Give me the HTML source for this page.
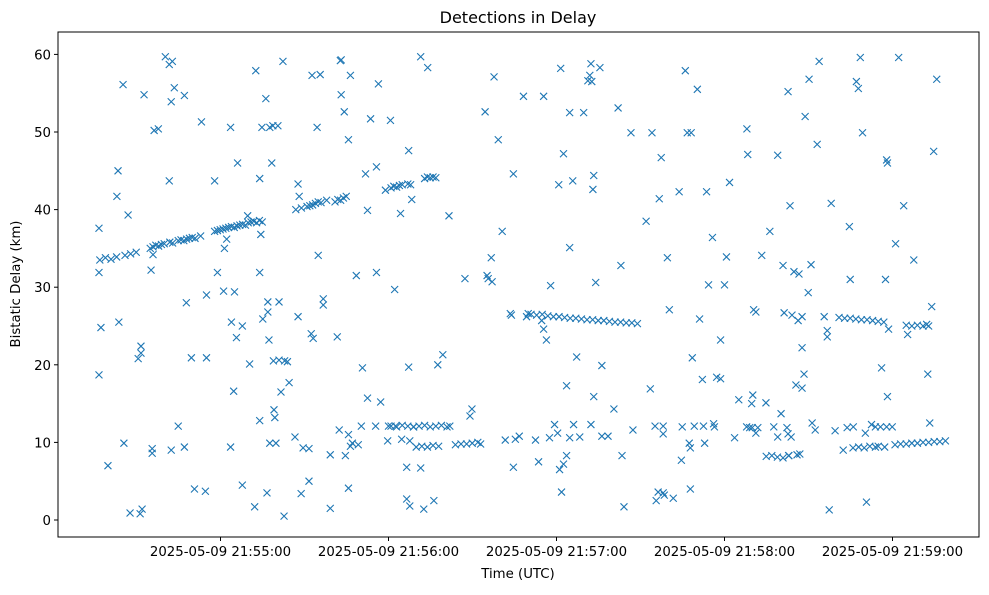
<!DOCTYPE html>
<html><head><meta charset="utf-8"><style>
body{margin:0;background:#fff;}
svg text{font-family:"DejaVu Sans","Liberation Sans",sans-serif;fill:#000;}
</style></head><body>
<svg id="chart" width="989" height="590" xmlns="http://www.w3.org/2000/svg">
<rect width="989" height="590" fill="#fff"/>
<text x="518" y="23" font-size="16" text-anchor="middle">Detections in Delay</text>
<text x="518" y="578" font-size="13.3" text-anchor="middle">Time (UTC)</text>
<text transform="translate(20,284) rotate(-90)" font-size="13.3" text-anchor="middle">Bistatic Delay (km)</text>
<g id="marks"></g>
<g id="axes"></g>
</svg>
<script>
// seconds after 21:54:00 (approx, with epoch offset)
const epochOffset = 2.9;
const trackT = [14,16,18,20,23,25,27,32,33,34,35,36,37,39,40,42,43,44,45,46,47,48,50,55,56,57,58,59,60,61,62,63,64,65,66,67,68,69,70,71,72,
84,86,88,89,90,91,92,93,95,98,99,100,101,102,
116,118,119,120,121,122,124,125,130,131,132,133,134,
167,168,170,172,174,176,178,180,182,184,186,188,190,192,194,196,198,200,202,204,206,
278,280,282,284,286,288,290,292,294,302,304,306,308,310,
118,120,122,124,126,128,130,132,134,136,138,139,
127,129,131,133,135,141,143,145,147,149,150,
283,285,287,289,291,292,295,297,298,300,302,304,306,308,310,312,314,316,
252,254,256,258,260,263,264,245,247,
76,78,80,81];
const trackV = [33.5,33.8,33.6,33.9,34.1,34.3,34.5,35.0,35.2,35.4,35.3,35.5,35.6,35.8,35.7,36.0,36.1,36.0,36.2,36.3,36.4,36.3,36.6,37.2,37.3,37.4,37.5,37.6,37.7,37.8,37.7,37.9,38.0,38.1,38.0,38.3,38.4,38.5,38.3,38.6,38.4,
40.0,40.2,40.4,40.5,40.6,40.8,41.0,40.9,41.2,41.0,41.3,41.2,41.5,41.7,
42.5,42.8,43.0,42.9,43.1,43.2,43.3,43.2,44.0,44.2,44.1,44.2,44.1,
26.6,26.5,26.4,26.5,26.3,26.2,26.2,26.1,26.0,26.0,25.9,25.8,25.8,25.7,25.7,25.6,25.5,25.5,25.4,25.4,25.3,
26.1,26.0,26.0,25.9,25.8,25.8,25.7,25.6,25.5,25.1,25.0,25.1,25.0,25.0,
12.1,12.0,12.2,12.1,12.0,12.1,12.2,12.0,12.1,12.2,12.0,12.1,
9.4,9.5,9.4,9.6,9.5,9.7,9.8,9.8,9.9,10.0,9.8,
9.3,9.4,9.3,9.5,9.4,9.5,12.0,12.0,9.7,9.8,9.8,9.9,9.9,10.0,10.0,10.1,10.1,10.2,
8.2,8.3,8.1,8.0,8.3,8.4,8.5,12.0,11.9,
20.5,20.6,20.5,20.4];
const scatterT = [13.7,13.7,13.7,14.4,16.9,20.5,20.1,20.8,22.3,22.6,24.1,24.8,28.4,29.1,28.7,28.7,27.7,29.8,32.3,32.7,32.7,33,33.4,34.9,37.4,38.8,39.9,38.8,39.5,40.6,39.5,42,44.2,44.2,44.9,46.7,47.8,50.3,51.7,52.1,52.1,55,56,58.2,58.5,59.3,60.7,60.7,61,61.8,62.1,63.2,62.8,64.9,64.9,66.8,67.5,69.3,69.7,71.1,71.1,71.5,71.9,71.1,72.2,73.3,74,73.7,74,74.4,74.7,74.7,75.4,75.8,76.2,76.5,76.9,77.6,78,78.7,79.4,79.8,81.6,83.7,84.8,85.2,84.8,85.9,86.6,88.7,88.7,89.5,90.2,89.8,92.7,92,91.6,93.8,93.8,96.3,96.3,98.8,99.5,99.9,100.2,100.2,101.3,101.7,102.8,102.8,102.8,103.5,104.2,103.5,105.6,106.3,107.4,107.8,108.9,109.6,109.6,110.7,112.5,112.8,112.8,113.5,114.3,116.8,117.1,117.8,119.3,119.6,121.4,121.8,123.6,123.6,124.3,124.3,124.7,124.7,125.4,126.1,128.6,129.7,128.6,131.1,133.3,134.7,136.5,138.7,144.4,146.2,146.9,151.6,152.3,152.7,153.8,154.1,154.8,156.3,157.7,158.8,160.6,161,161.7,161.7,162.4,163.8,165.3,166.4,169.6,170.7,171.8,172.5,172.5,173.5,174.6,175,176.4,177.5,177.9,178.2,178.6,178.9,179.6,179.6,180.7,180.7,181.8,181.8,181.8,182.9,183.2,184.3,185.4,186.8,188.3,189,189.4,189.7,190.4,190.1,189.4,190.4,191.1,192.6,193.3,193.3,195.5,197.6,199.1,200.1,200.5,201.2,203.7,204.4,209.1,210.6,211.2,212.3,212.7,213.4,213.8,214.5,215.2,215.2,215.2,215.6,216.7,217.4,218.8,220.9,221.7,222,223.1,223.8,224.5,224.9,225.2,224.9,225.6,226.3,227.4,228.2,229.2,229.6,230,230.7,231.4,232.8,233.2,233.5,234.3,235.7,235.7,237.1,237.8,238.9,240.7,242.2,245.1,245.4,246.1,246.8,247.2,247.5,248.3,248.3,249,250.4,251.9,253.3,254.7,256.1,256.1,257.3,258,258.4,259.4,259.8,260.1,259.8,260.5,260.9,261.2,261.9,262.6,263.4,263.7,264.8,264.8,264.8,265.5,265.9,267,267.3,268,268.4,269.5,270.2,270.9,272.7,273.8,273.8,274.5,275.2,276.6,279.5,280.9,281.7,282,283.1,284.2,284.9,285.6,286.4,287.4,287.8,289.6,291,292.8,293.2,294.3,294.6,295,295.3,295.7,295.3,298.2,299.3,301.1,302.5,304.7,309.3,309.7,310.4,311.1,311.8,312.9];
const scatterV = [37.6,18.7,31.9,24.8,7.0,45.0,41.7,25.5,56.1,9.9,39.3,0.9,0.8,1.4,22.4,21.5,20.8,54.8,32.2,8.6,9.2,34.2,50.2,50.4,59.7,58.7,59.1,43.7,53.9,55.7,9.0,12.1,54.7,9.4,28.0,20.9,4.0,51.3,3.7,29.0,20.9,43.7,31.9,29.5,35.0,36.2,9.4,50.6,25.5,16.6,29.4,46.0,23.5,4.5,25.0,39.2,20.1,1.7,57.9,44.0,31.9,36.8,50.6,12.8,25.9,54.3,28.1,3.5,26.8,23.2,9.9,50.6,46.0,50.8,14.2,13.2,9.9,50.8,28.1,16.5,59.1,0.5,17.7,10.7,43.3,41.7,26.2,3.4,9.3,5.0,9.2,24.0,23.4,57.3,57.4,34.1,50.6,28.5,27.7,1.5,8.4,23.6,11.6,59.2,59.3,54.8,52.6,8.3,11.0,4.1,49.0,57.3,9.9,9.5,31.5,9.7,12.1,19.6,44.6,15.7,39.9,51.7,12.1,31.9,45.5,56.2,15.2,10.2,12.1,51.5,29.7,12.1,39.5,10.4,6.8,2.7,19.7,47.6,1.8,10.2,41.3,12.0,6.7,1.4,59.7,58.3,2.5,20.0,21.3,39.2,31.1,13.4,14.3,52.6,31.5,31.1,33.8,30.7,57.1,49.0,37.2,10.3,26.6,26.4,44.6,6.8,10.4,10.8,54.6,26.2,10.3,7.5,25.7,54.6,24.6,23.2,10.6,30.2,12.3,11.2,43.2,6.5,58.2,3.6,47.2,7.2,17.3,8.3,35.1,52.5,10.6,43.7,12.3,21.0,10.7,52.5,56.6,57.3,58.8,56.5,44.4,42.6,12.3,15.9,30.6,58.3,19.9,10.8,10.8,14.3,53.1,32.8,8.3,1.7,49.9,11.6,38.5,16.9,49.9,12.1,2.5,3.6,41.4,46.7,11.1,12.1,3.5,3.2,33.8,27.1,2.8,42.3,7.7,12.0,57.9,49.9,9.9,9.3,49.9,4.0,20.9,12.1,55.5,25.9,18.1,12.1,9.9,42.3,30.3,36.4,12.4,12.0,18.4,18.2,23.2,30.3,33.9,43.5,10.6,15.5,50.4,47.1,11.9,15.0,16.1,27.1,26.8,11.2,11.9,34.1,15.1,37.2,12.0,47.0,10.7,13.7,32.8,26.7,11.9,55.2,8.3,11.1,40.5,10.7,26.4,32.0,17.4,25.7,31.7,26.2,22.2,17.0,18.8,52.0,29.3,56.8,32.9,12.5,11.6,48.4,59.1,26.2,24.4,23.6,1.3,40.8,11.5,9.0,11.9,37.8,31.0,12.0,56.5,55.6,59.6,49.9,11.2,2.3,12.3,12.0,12.0,19.6,9.4,31.0,46.4,46.0,24.6,15.9,35.6,59.6,40.5,23.9,33.5,25.2,18.8,12.5,27.5,47.5,56.8];
const yTicks = [0,10,20,30,40,50,60];
const xTickSec = [60,120,180,240,300];
const xTickLabels = ["2025-05-09 21:55:00","2025-05-09 21:56:00","2025-05-09 21:57:00","2025-05-09 21:58:00","2025-05-09 21:59:00"];

const NS="http://www.w3.org/2000/svg";
const L=58,R=979,T=32,B=537;
function xs(t){return 220.5+(t-60)*2.8;}
function ys(v){return 520-7.76*v;}
function mk(tag,attrs,parent){const e=document.createElementNS(NS,tag);for(const k in attrs)e.setAttribute(k,attrs[k]);parent.appendChild(e);return e;}
const marks=document.getElementById('marks');
const axes=document.getElementById('axes');
function drawX(t,v){
  const cx=xs(t+epochOffset),cy=ys(v),s=3.5;
  const p=mk('path',{d:`M${cx-s},${cy-s}L${cx+s},${cy+s}M${cx-s},${cy+s}L${cx+s},${cy-s}`,stroke:'#1f77b4','stroke-width':1.1,fill:'none'},marks);
  
  
}
trackT.forEach((t,i)=>drawX(t,trackV[i]));
scatterT.forEach((t,i)=>drawX(t,scatterV[i]));
const frame=mk('rect',{x:L,y:T,width:R-L,height:B-T,fill:'none',stroke:'#000','stroke-width':1},axes);


yTicks.forEach(v=>{
  const y=ys(v);
  mk('line',{x1:L-4,x2:L,y1:y,y2:y,stroke:'#000'},axes);
  const tx=mk('text',{x:L-7,y:y+5,'font-size':13.3,'text-anchor':'end'},axes);
  tx.textContent=v;
  
  
});
xTickSec.forEach((t,i)=>{
  const x=xs(t);
  mk('line',{x1:x,x2:x,y1:B,y2:B+4,stroke:'#000'},axes);
  const tx=mk('text',{x:x,y:B+19,'font-size':13.3,'text-anchor':'middle'},axes);
  tx.textContent=xTickLabels[i];
  
  
});
</script>
</body></html>
